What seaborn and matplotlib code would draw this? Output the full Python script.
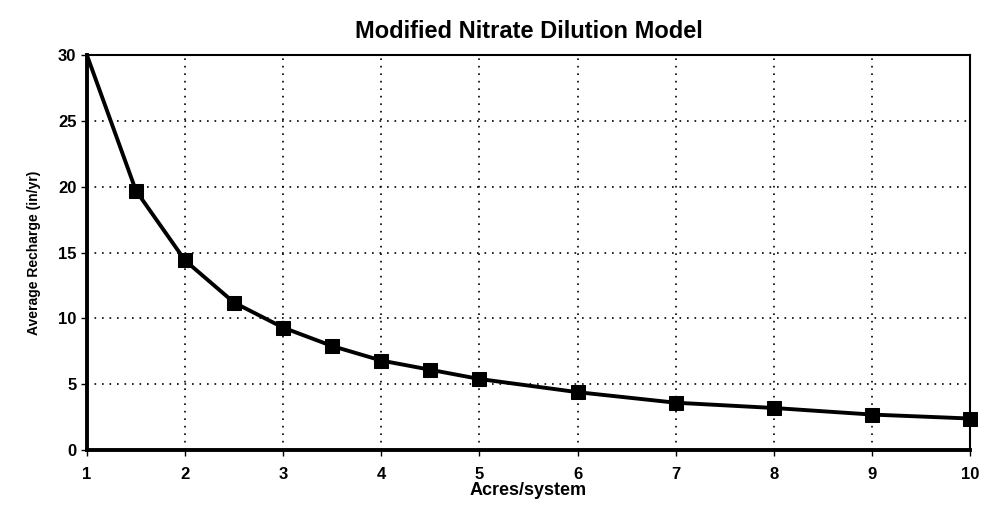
import numpy as np
import pandas as pd
import matplotlib
matplotlib.use('Agg')
import matplotlib.pyplot as plt
import seaborn as sns

# values
acres    = [1, 1.5, 2, 2.5, 3, 3.5, 4, 4.5, 5, 6, 7, 8, 9, 10]
recharge = [30.0, 19.7, 14.4, 11.2, 9.3, 7.9, 6.8, 6.1, 5.4, 4.4, 3.6, 3.2, 2.7, 2.4]
x_ticks  = [1, 2, 3, 4, 5, 6, 7, 8, 9, 10]
y_ticks  = [0, 5, 10, 15, 20, 25, 30]

df = pd.DataFrame({'acres': acres, 'recharge': recharge})

sns.set_theme(style='white')
plt.rcParams['font.family'] = ['Liberation Sans', 'DejaVu Sans']
plt.rcParams['font.weight'] = 'bold'
plt.rcParams['text.color'] = 'black'
plt.rcParams['axes.labelcolor'] = 'black'
plt.rcParams['xtick.color'] = 'black'
plt.rcParams['ytick.color'] = 'black'

fig = plt.figure(figsize=(9.87, 5.18), dpi=100)
ax = fig.add_axes([0.088, 0.131, 0.895, 0.763])

sns.lineplot(data=df, x='acres', y='recharge', ax=ax, color='black', lw=2.8,
             marker='s', markersize=10.5, markeredgecolor='black',
             markevery=list(range(1, len(acres))), clip_on=False, zorder=5)

ax.set_xlim(1, 10)
ax.set_ylim(0, 30)
ax.set_xticks(x_ticks)
ax.set_yticks(y_ticks)
ax.grid(True, color='black', linestyle=(0, (1, 3.5)), linewidth=1.2)

for side in ('left', 'bottom'):
    ax.spines[side].set_linewidth(2.8)
for side in ('top', 'right'):
    ax.spines[side].set_linewidth(1.5)
for sp in ax.spines.values():
    sp.set_color('black')

ax.tick_params(axis='both', which='major', labelsize=12, length=4, width=1,
               direction='out', left=True, bottom=True)
ax.tick_params(axis='x', pad=8)
for lab in ax.get_xticklabels() + ax.get_yticklabels():
    lab.set_fontweight('bold')

ax.set_xlabel('Acres/system', fontsize=13, fontweight='bold', labelpad=0)
ax.set_ylabel('Average Recharge (in/yr)', fontsize=10, fontweight='bold', labelpad=12)
ax.set_title('Modified Nitrate Dilution Model', fontsize=17, fontweight='bold', pad=12)

plt.savefig('out.png', dpi=100)
plt.close()
